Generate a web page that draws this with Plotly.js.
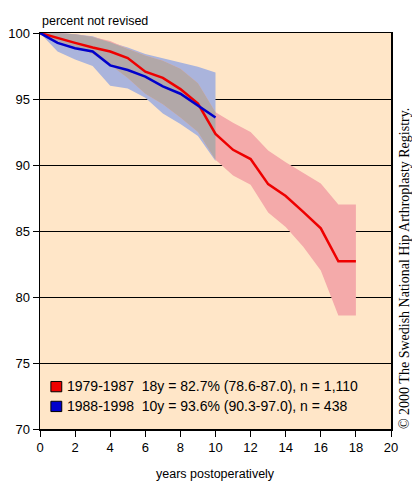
<!DOCTYPE html>
<html>
<head>
<meta charset="utf-8">
<script src="https://cdn.plot.ly/plotly-3.0.1.min.js"></script>
<style>
html,body{margin:0;padding:0;background:#fff;}
#chart{width:412px;height:482px;}
</style>
</head>
<body>
<div id="chart"></div>
<script>
// Data
const redYears = [0,1,2,3,4,5,6,7,8,9,10,11,12,13,14,15,16,17,18];
const redValues = [100,99.6,99.25,98.9,98.6,98.1,97.07,96.6,95.75,94.65,92.35,91.15,90.45,88.55,87.65,86.45,85.2,82.7,82.7];
const redUpper = [100,100,99.9,99.7,99.4,98.8,98.3,97.9,97.3,96.2,94.0,93.2,92.5,91.1,90.2,89.4,88.6,87.0,87.0];
const redLower = [100,99.35,98.95,98.4,97.6,96.6,95.4,94.6,93.6,92.5,90.4,89.2,88.5,86.4,85.3,83.8,82.0,78.6,78.6];

const blueYears = [0,1,2,3,4,5,6,7,8,9,10];
const blueValues = [100,99.25,98.85,98.6,97.55,97.2,96.7,95.95,95.4,94.5,93.6];
const blueUpper = [100,100,99.9,99.75,99.3,98.9,98.4,98.1,97.75,97.45,97.0];
const blueLower = [100,98.6,98.0,97.5,96.0,95.8,95.1,93.9,93.1,92.2,90.3];

const legendLabels = [
  "1979-1987\u00a0\u00a018y = 82.7% (78.6-87.0), n = 1,110",
  "1988-1998\u00a0\u00a010y = 93.6% (90.3-97.0), n = 438"
];
const xTicks = [0,2,4,6,8,10,12,14,16,18,20];
const yTicks = [70,75,80,85,90,95,100];

// Overlap of the two confidence bands (where both exist)
const overlapYears = blueYears.slice();
const overlapUpper = blueYears.map((t,i)=>Math.min(blueUpper[i], redUpper[redYears.indexOf(t)]));
const overlapLower = blueYears.map((t,i)=>Math.max(blueLower[i], redLower[redYears.indexOf(t)]));

function band(xs, up, lo, color){
  return {
    x: xs.concat(xs.slice().reverse()),
    y: up.concat(lo.slice().reverse()),
    type:'scatter', mode:'lines', fill:'toself', fillcolor:color,
    line:{width:0, color:color}, hoverinfo:'skip', showlegend:false
  };
}

const sans = "Liberation Sans, Arial, sans-serif";

const traces = [
  band(blueYears, blueUpper, blueLower, '#AAB4DC'),
  band(redYears, redUpper, redLower, '#F4AAAA'),
  band(overlapYears, overlapUpper, overlapLower, '#B2A8A8'),
  {x: redYears, y: redValues, type:'scatter', mode:'lines', line:{color:'#EE0000', width:2.5}, showlegend:false},
  {x: blueYears, y: blueValues, type:'scatter', mode:'lines', line:{color:'#0000CC', width:2.5}, showlegend:false}
];

const layout = {
  width:412, height:482,
  margin:{l:40, r:21, t:33, b:53},
  paper_bgcolor:'#ffffff',
  plot_bgcolor:'#FFE6C8',
  showlegend:false,
  xaxis:{
    range:[0,20], tickvals:xTicks, ticktext:xTicks.map(String),
    ticks:'outside', ticklen:6, tickcolor:'#000', tickwidth:1,
    showgrid:false, zeroline:false,
    showline:true, linecolor:'#000', linewidth:1.5, mirror:true,
    tickfont:{family:sans, size:13, color:'#000'}
  },
  yaxis:{
    range:[70,100], tickvals:yTicks, ticktext:yTicks.map(String),
    ticks:'outside', ticklen:6, tickcolor:'#000', tickwidth:1,
    showgrid:true, gridcolor:'#000', gridwidth:1, zeroline:false,
    showline:true, linecolor:'#000', linewidth:1.5, mirror:true,
    tickfont:{family:sans, size:13, color:'#000'}
  },
  shapes:[
    {type:'rect', xref:'paper', yref:'paper', x0:0.031, x1:0.062, y0:0.094, y1:0.12, fillcolor:'#EE0000', line:{color:'#000', width:1}},
    {type:'rect', xref:'paper', yref:'paper', x0:0.031, x1:0.062, y0:0.044, y1:0.07, fillcolor:'#0000CC', line:{color:'#000', width:1}}
  ],
  annotations:[
    {text:'percent not revised', xref:'paper', yref:'paper', x:0, y:1, xanchor:'left', yanchor:'bottom', yshift:3, showarrow:false,
     font:{family:sans, size:12.5, color:'#000'}},
    {text:'years postoperatively', xref:'paper', yref:'paper', x:0.5, y:0, xanchor:'center', yanchor:'top', yshift:-36, showarrow:false,
     font:{family:sans, size:12.5, color:'#000'}},
    {text:'\u00a9 2000 The Swedish National Hip Arthroplasty Registry.', xref:'paper', yref:'paper', x:1, y:0.404, xanchor:'center', yanchor:'middle', xshift:13, textangle:-90, showarrow:false,
     font:{family:'Liberation Serif, Times New Roman, serif', size:14, color:'#000'}},
    {text:legendLabels[0], xref:'paper', yref:'paper', x:0.07, y:0.108, xanchor:'left', yanchor:'middle', showarrow:false,
     font:{family:sans, size:14, color:'#000'}},
    {text:legendLabels[1], xref:'paper', yref:'paper', x:0.07, y:0.057, xanchor:'left', yanchor:'middle', showarrow:false,
     font:{family:sans, size:14, color:'#000'}}
  ]
};

Plotly.newPlot('chart', traces, layout, {displayModeBar:false, staticPlot:true});
</script>
</body>
</html>
